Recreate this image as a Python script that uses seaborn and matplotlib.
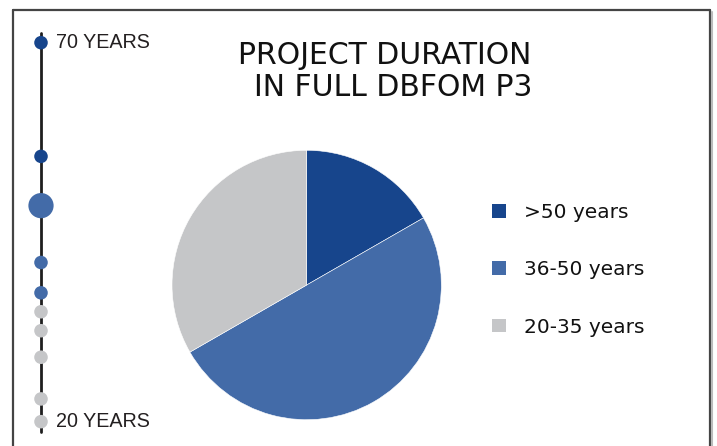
"""
Durata proiectelor DBFOM P3: axa de timp cu proiecte + diagrama circulara.
"""
import numpy as np
import pandas as pd
import matplotlib.pyplot as plt
from matplotlib.lines import Line2D
from matplotlib.patches import Patch
import seaborn as sns

# ─────────────────────────────────────────────────────────────────
# DATE
# ─────────────────────────────────────────────────────────────────
categories = [">50 years", "36-50 years", "20-35 years"]
shares = [16.7, 50.0, 33.3]

project_years = [70, 55, 48.5, 41, 37, 34.5, 32, 28.5, 23, 20]
project_group = [">50 years", ">50 years", "36-50 years", "36-50 years",
                 "36-50 years", "20-35 years", "20-35 years", "20-35 years",
                 "20-35 years", "20-35 years"]
project_weight = [1, 1, 4, 1, 1, 1, 1, 1, 1, 1]

axis_labels = ["70 YEARS", "20 YEARS"]
axis_years = [70, 20]

COLORS = {
    ">50 years":   "#17458C",
    "36-50 years": "#436BA8",
    "20-35 years": "#C5C6C8",
}

# ─────────────────────────────────────────────────────────────────
# FIGURA
# ─────────────────────────────────────────────────────────────────
sns.set_theme(style="white")
plt.rcParams["font.family"] = ["Liberation Sans", "DejaVu Sans"]

W, H = 717, 446
fig = plt.figure(figsize=(W / 100, H / 100), dpi=100)
fig.patch.set_facecolor("white")

# chenar (sus, stanga, dreapta)
frame_kw = dict(color="#444444", lw=1.6, transform=fig.transFigure, clip_on=False)
fig.add_artist(Line2D([13 / W, 710 / W], [1 - 10 / H, 1 - 10 / H], **frame_kw))
fig.add_artist(Line2D([13 / W, 13 / W], [0, 1 - 10 / H], **frame_kw))
fig.add_artist(Line2D([710 / W, 710 / W], [0, 1 - 10 / H], **frame_kw))
fig.add_artist(Line2D([712 / W, 712 / W], [0, 1 - 12 / H], color="#BBBBBB",
                      lw=1.5, transform=fig.transFigure, clip_on=False))

# ─── axa de timp ───
ax_t = fig.add_axes([0, 0, 1, 1])
ax_t.plot([41, 41], [18.7, 71.3], color="#1E1E1E", lw=2.0, zorder=1)

tl = pd.DataFrame({"x": 41, "year": project_years, "group": project_group,
                   "weight": project_weight})
sns.scatterplot(data=tl, x="x", y="year", hue="group", palette=COLORS,
                size="weight", sizes=(95, 330), linewidth=0, legend=False,
                ax=ax_t, zorder=3)
ax_t.set_xlim(0, W)
ax_t.set_ylim(16.79, 75.63)
ax_t.axis("off")

for lab, yr in zip(axis_labels, axis_years):
    ax_t.text(56, yr, lab, fontsize=14.2, color="#231F20", va="center", ha="left",
              family="Liberation Sans")

# titlu
title_font = dict(ha="center", va="center", fontsize=21.5, color="#111111",
                  family="DejaVu Sans")
fig.text(385 / W, 1 - 55 / H, "PROJECT DURATION", **title_font)
fig.text(393 / W, 1 - 88 / H, "IN FULL DBFOM P3", **title_font)

# ─── diagrama circulara ───
r = 134.7
ax_p = fig.add_axes([(306.7 - r) / W, (H - 285 - r) / H, 2 * r / W, 2 * r / H])
ax_p.pie(shares, colors=[COLORS[c] for c in categories], startangle=90,
         counterclock=False, wedgeprops=dict(linewidth=0.4, edgecolor="white"))
ax_p.set_xlim(-1, 1)
ax_p.set_ylim(-1, 1)
ax_p.axis("off")

# legenda
handles = [Patch(facecolor=COLORS[c], edgecolor="none") for c in categories]
fig.legend(handles, categories, loc="upper left",
           bbox_to_anchor=(484 / W, 1 - 195 / H), frameon=False,
           handlelength=0.68, handleheight=0.68, handletextpad=0.9,
           labelspacing=1.9, borderaxespad=0, labelcolor="#111111",
           prop=dict(family="DejaVu Sans", size=14.5))

plt.savefig("out.png", dpi=100, facecolor="white")
plt.close()
